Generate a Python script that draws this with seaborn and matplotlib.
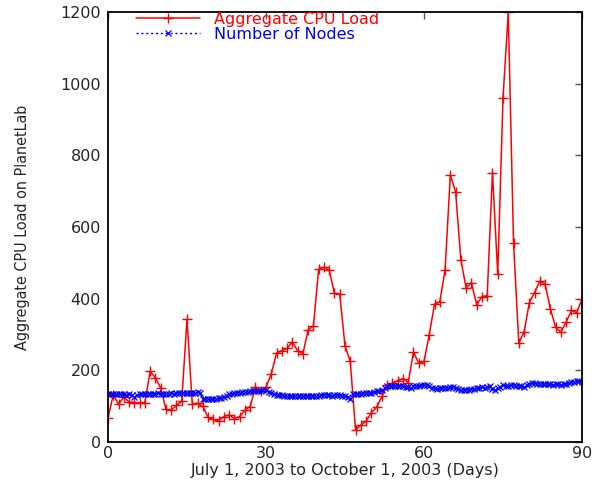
import numpy as np
import pandas as pd
import matplotlib
matplotlib.use("Agg")
import matplotlib.pyplot as plt
import seaborn as sns

# ---- data ----
cpu_days = list(range(0, 91))
cpu_load = [68, 131, 106, 125, 112, 110, 110, 110, 197, 179,
            151, 91, 89, 102, 114, 343, 106, 108, 100, 69,
            63, 59, 71, 76, 65, 71, 89, 99, 154, 142,
            153, 190, 248, 255, 261, 279, 255, 246, 313, 324,
            482, 488, 479, 415, 413, 268, 225, 34, 47, 58,
            82, 97, 127, 158, 164, 171, 177, 166, 251, 220,
            225, 300, 385, 391, 480, 745, 698, 508, 430, 445,
            383, 406, 408, 752, 469, 959, 1199, 555, 276, 307,
            389, 417, 449, 440, 371, 320, 307, 335, 367, 361,
            399]

node_days = [i * 0.5 for i in range(181)]
node_count = [134, 135, 134, 133, 135, 134, 133, 131, 134, 130,
              126, 131, 134, 135, 134, 133, 135, 134, 135, 136,
              134, 135, 135, 134, 136, 135, 136, 137, 137, 136,
              137, 138, 138, 137, 139, 137, 121, 120, 119, 120,
              121, 120, 122, 124, 125, 128, 133, 134, 136, 137,
              138, 139, 140, 140, 141, 142, 142, 141, 143, 144,
              145, 140, 136, 134, 132, 131, 130, 129, 128, 128,
              127, 127, 127, 128, 127, 128, 128, 129, 128, 129,
              129, 130, 130, 131, 130, 129, 131, 130, 130, 128,
              129, 126, 119, 133, 134, 135, 135, 136, 136, 137,
              138, 140, 141, 143, 145, 150, 156, 157, 157, 156,
              156, 155, 155, 154, 153, 152, 155, 156, 157, 158,
              159, 160, 155, 152, 150, 149, 151, 150, 152, 151,
              153, 154, 151, 148, 145, 146, 146, 145, 148, 147,
              150, 151, 153, 152, 154, 155, 147, 146, 150, 153,
              158, 157, 157, 158, 158, 157, 156, 155, 153, 158,
              163, 164, 164, 163, 163, 162, 162, 161, 161, 160,
              162, 161, 160, 162, 163, 165, 167, 168, 170, 169,
              168]

x_ticks = [0, 30, 60, 90]
y_ticks = [0, 200, 400, 600, 800, 1000, 1200]

cpu_df = pd.DataFrame({"day": cpu_days, "value": cpu_load})
node_df = pd.DataFrame({"day": node_days, "value": node_count})

sns.set_style("white")
plt.rcParams['font.family'] = ['DejaVu Sans']

fig = plt.figure(figsize=(5.94, 4.82), dpi=100)
ax = fig.add_axes([108 / 594, 40 / 482, 474 / 594, 430 / 482])

sns.lineplot(data=cpu_df, x="day", y="value", ax=ax, color="#ff0000",
             linewidth=1.1, marker="+", markersize=6.5, markeredgewidth=1.0,
             markeredgecolor="#ff0000", label="Aggregate CPU Load")
sns.lineplot(data=node_df, x="day", y="value", ax=ax, color="#0000ff",
             linewidth=1.0, linestyle=(0, (1.5, 2)), marker="x", markersize=4.5,
             markeredgewidth=0.9, markeredgecolor="#0000ff",
             label="Number of Nodes")

ax.set_xlim(0, 90)
ax.set_ylim(0, 1200)
ax.set_xticks(x_ticks)
ax.set_yticks(y_ticks)
ax.tick_params(direction="in", top=True, right=True, length=5, width=1,
               color="#555555", labelsize=11.5, pad=5)
ax.tick_params(axis="x", pad=3)
for s in ax.spines.values():
    s.set_color("black")
    s.set_linewidth(1.3)

ax.set_xlabel("July 1, 2003 to October 1, 2003 (Days)", fontsize=11.5)
ax.xaxis.set_label_coords(0.5, -0.05)
ax.set_ylabel("Aggregate CPU Load on PlanetLab", fontsize=11.5,
              fontstretch="condensed", labelpad=22)

leg = ax.legend(loc="upper left", bbox_to_anchor=(0.045, 1.015), frameon=False,
                handlelength=4.0, fontsize=11.5, labelspacing=0.0,
                handletextpad=0.9, borderaxespad=0)
for t, c in zip(leg.get_texts(), ["#ff0000", "#0000ff"]):
    t.set_color(c)

fig.savefig("out.png", dpi=100)
